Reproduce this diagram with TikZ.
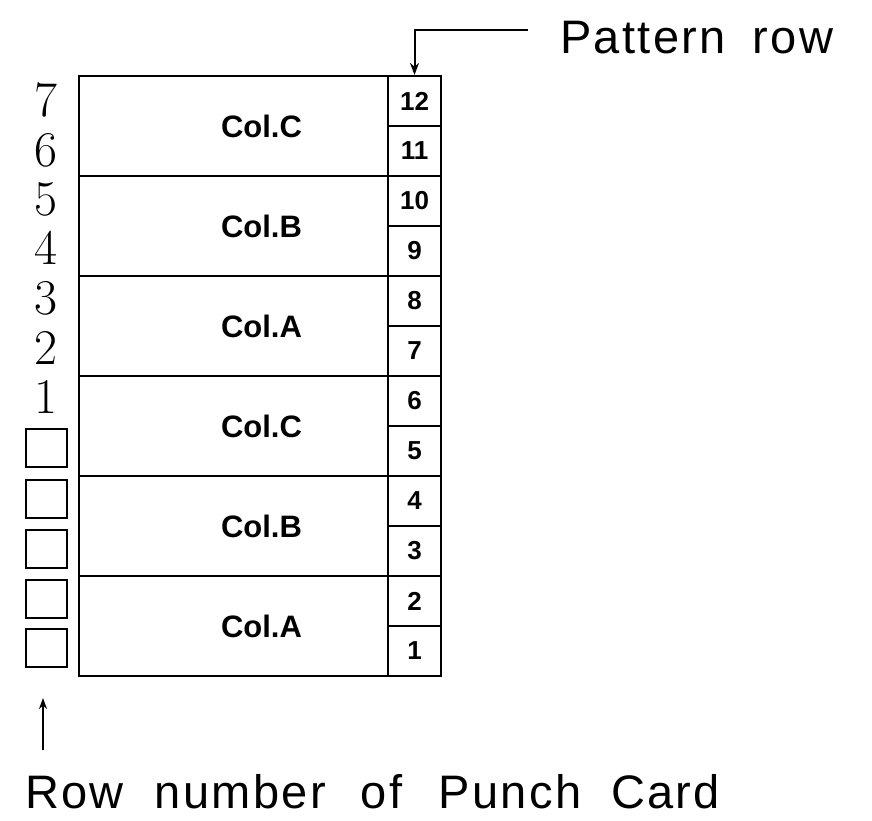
\documentclass[tikz,border=0pt]{standalone}
\usepackage{fontspec}
\newfontfamily\hv{Liberation Sans}
\newfontfamily\hvs[LetterSpace=5]{Liberation Sans}
\usetikzlibrary{arrows.meta}
\begin{document}
\begin{tikzpicture}[x=1pt,y=-1pt,
  band/.style={draw,line width=2.2pt,minimum width=309pt,minimum height=100pt,inner sep=0pt},
  collab/.style={inner sep=0pt,font=\hv\bfseries\fontsize{31}{31}\selectfont},
  cell/.style={draw,line width=2.2pt,minimum width=53pt,minimum height=50pt,inner sep=0pt,font=\hv\bfseries\fontsize{26}{26}\selectfont},
  sq/.style={draw,line width=2pt,minimum width=41pt,minimum height=38pt,inner sep=0pt},
  rownum/.style={font=\fontsize{50}{50}\selectfont,inner sep=0pt},
  lab/.style={font=\hvs\fontsize{47}{47}\selectfont,inner sep=0pt,anchor=base west},
  conn/.style={line width=2pt,-{Stealth[length=12pt,width=9pt]}}]
\useasboundingbox (0,0) rectangle (872,820);
% bands
\foreach \i/\t [count=\k from 0] in {c1/Col.C,b1/Col.B,a1/Col.A,c2/Col.C,b2/Col.B,a2/Col.A}{
  \node[band] (\i) at (233.5,{126+100*\k}) {};
  \node[collab] (l\i) at ([xshift=28pt]\i.center) {\t};
}
% pattern cells
\foreach \n [count=\k from 0] in {12,11,10,9,8,7,6,5,4,3,2,1}
  \node[cell] (p\n) at (414.5,{101+50*\k}) {\n};
% row numbers
\foreach \n/\y in {7/100,6/150,5/199,4/248,3/298,2/348,1/397}
  \node[rownum] (r\n) at (46,\y) {\n};
% empty squares
\foreach \y [count=\k] in {448,499,549,599,648}
  \node[sq] (s\k) at (46,\y) {};
% labels
\node[lab] (pat) at (560,53) {Pattern\hspace{27pt}row};
\node[lab] (rowlab) at (25,808) {Row\hspace{31pt}number\hspace{35pt}of\hspace{36pt}Punch\hspace{30pt}Card};
% connectors
\coordinate (patstart) at (528,30);
\draw[conn] (patstart) -| (p12.north);
\coordinate (upstart) at (43,750);
\coordinate (uptip) at (43,698);
\draw[line width=1.8pt,-{Stealth[length=11pt,width=8pt]}] (upstart) -- (uptip);
\end{tikzpicture}
\end{document}
